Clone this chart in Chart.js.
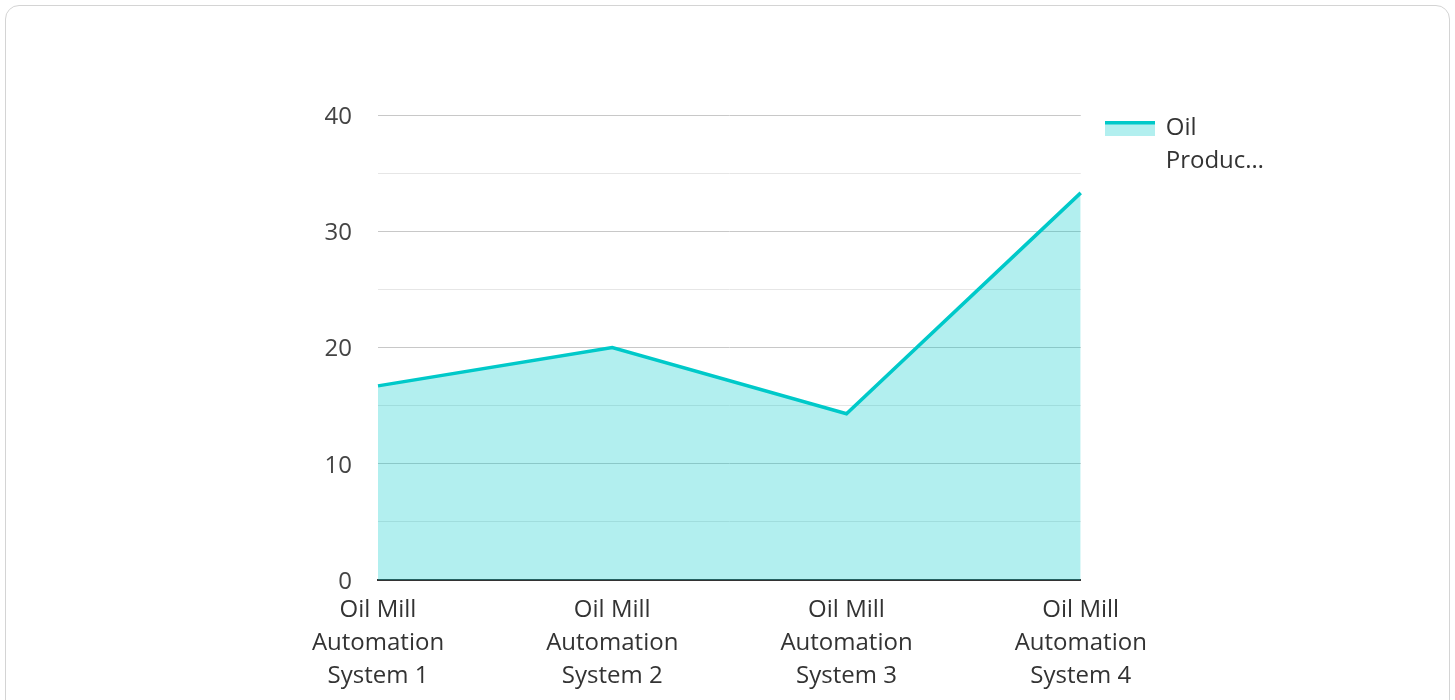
<!DOCTYPE html>
<html>
<head>
<meta charset="utf-8">
<script src="https://cdn.jsdelivr.net/npm/chart.js@4/dist/chart.umd.min.js"></script>
<style>
  html, body { margin: 0; padding: 0; background: #ffffff; overflow: hidden; }
  .card {
    position: absolute; left: 5px; top: 5px; width: 1445px; height: 710px;
    border: 1px solid #d4d4d4; border-radius: 14px; box-sizing: border-box; background: #fff;
  }
  #wrap { position: absolute; left: 0; top: 0; width: 1455px; height: 700px; }
</style>
</head>
<body>
<div class="card"></div>
<div id="wrap"><canvas id="c" width="1455" height="700"></canvas></div>
<script>
const categories = [
  ["Oil Mill", "Automation", "System 1"],
  ["Oil Mill", "Automation", "System 2"],
  ["Oil Mill", "Automation", "System 3"],
  ["Oil Mill", "Automation", "System 4"]
];
const seriesLabel = ["Oil", "Produc\u2026"];
const seriesValues = [16.7, 20.0, 14.3, 33.3];
const yTickLabels = [0, 10, 20, 30, 40];

const lineColor = "#00c9c9";
const fillColor = "rgba(0, 201, 201, 0.30)";
const FONT = "'Open Sans', 'Noto Sans', sans-serif";

// legend swatch: thick line on top with pale fill below
const sw = document.createElement('canvas');
sw.width = 50; sw.height = 15;
(function () {
  const g = sw.getContext('2d');
  g.fillStyle = fillColor; g.fillRect(0, 0, 50, 15);
  g.fillStyle = lineColor; g.fillRect(0, 0, 50, 4);
})();

new Chart(document.getElementById('c'), {
  type: 'line',
  data: {
    labels: categories,
    datasets: [{
      label: seriesLabel,
      data: seriesValues,
      borderColor: lineColor,
      backgroundColor: fillColor,
      borderWidth: 3.5,
      fill: 'origin',
      tension: 0,
      pointRadius: 0,
      pointHoverRadius: 0,
      pointStyle: sw
    }]
  },
  options: {
    responsive: false,
    animation: false,
    devicePixelRatio: 1,
    layout: { padding: { top: 91, right: 181, bottom: 0, left: 0 } },
    plugins: {
      tooltip: { enabled: false },
      title: {
        display: true,
        text: '',
        fullSize: false,
        font: { size: 10, lineHeight: 1 },
        padding: { top: 14, bottom: 0 }
      },
      legend: {
        position: 'right',
        align: 'start',
        maxWidth: 200,
        labels: {
          usePointStyle: true,
          pointStyleWidth: 48,
          boxHeight: 15,
          padding: 25,
          color: '#333333',
          font: { family: FONT, size: 24, lineHeight: 1.375 },
          generateLabels: (chart) => [{
            text: seriesLabel,
            fillStyle: fillColor,
            strokeStyle: lineColor,
            lineWidth: 0,
            pointStyle: sw,
            datasetIndex: 0,
            fontColor: '#333333'
          }]
        }
      }
    },
    scales: {
      x: {
        offset: false,
        grid: { display: false, drawTicks: false },
        border: { display: true, color: '#333333', width: 2 },
        ticks: {
          color: '#333333',
          padding: 14,
          maxRotation: 0,
          autoSkip: false,
          font: { family: FONT, size: 24, lineHeight: 1.375 }
        },
        afterFit: (s) => { s.height = 120; }
      },
      y: {
        min: 0,
        max: 40,
        grid: {
          drawTicks: false,
          lineWidth: 1,
          color: (ctx) => (ctx.tick && yTickLabels.includes(ctx.tick.value)) ? '#c8c8c8' : '#e6e6e6'
        },
        border: { display: false },
        ticks: {
          stepSize: 5,
          padding: 26,
          labelOffset: 2,
          color: '#444444',
          font: { family: FONT, size: 24, lineHeight: 1.375 },
          callback: (v) => yTickLabels.includes(v) ? String(v) : ''
        },
        afterFit: (s) => { s.width = 378; }
      }
    }
  }
});
</script>
</body>
</html>
